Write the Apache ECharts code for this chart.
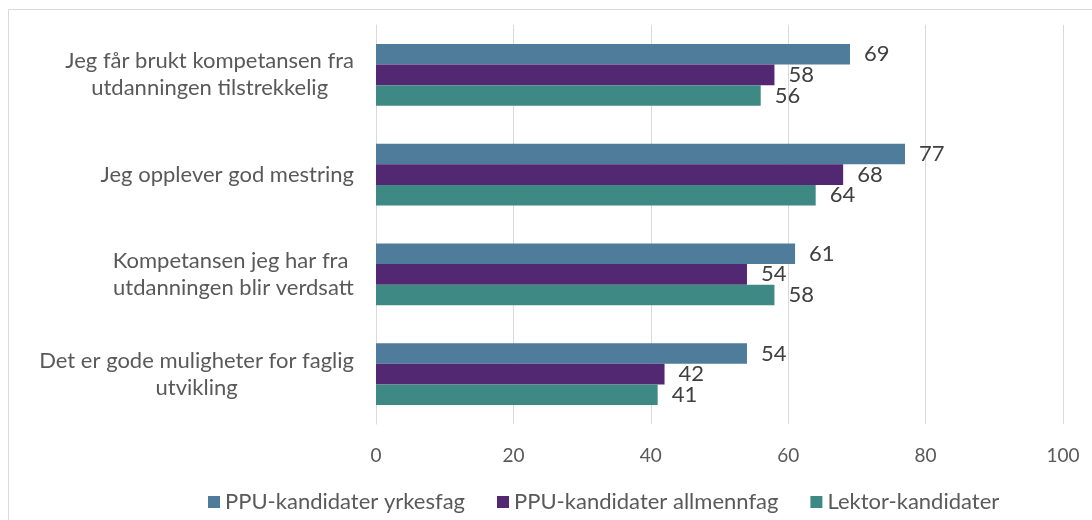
<!DOCTYPE html>
<html>
<head>
<meta charset="utf-8">
<script src="https://cdn.jsdelivr.net/npm/echarts@6/dist/echarts.min.js"></script>
<style>
   html, body { margin: 0; padding: 0; background: #ffffff; }
   #chart { width: 1092px; height: 520px; }
</style>
</head>
<body>
<div id="chart"></div>
<script>

// categories, top to bottom
const categories = [
   "Jeg får brukt kompetansen fra\nutdanningen tilstrekkelig",
   "Jeg opplever god mestring",
   "Kompetansen jeg har fra \nutdanningen blir verdsatt",
   "Det er gode muligheter for faglig\nutvikling",
];

const seriesNames = ["PPU-kandidater yrkesfag", "PPU-kandidater allmennfag", "Lektor-kandidater"];

const yrkesfag    = [69, 77, 61, 54];
const allmennfag  = [58, 68, 54, 42];
const lektor      = [56, 64, 58, 41];

const xTicks = [0, 20, 40, 60, 80, 100];

const colors = ["#4e7c9a", "#532873", "#3f8985"];

const fontFam = "Lato, 'Open Sans', sans-serif";

var chart = echarts.init(document.getElementById("chart"));

const seriesData = [yrkesfag, allmennfag, lektor];
const series = [];
for (var i=0; i<seriesData.length; i++)
{
   series.push({
      type: 'bar',
      name: seriesNames[i],
      data: seriesData[i],
      barGap: '0%',
      barCategoryGap: '38%',
      itemStyle: { color: colors[i] },
      label:
      {
         show: true,
         position: 'right',
         distance: 14,
         color: '#404040',
         fontSize: 22,
         fontFamily: fontFam,
      },
   });
}

var option =
{
   animation: false,
   textStyle: { fontFamily: fontFam },
   graphic: [
   {
      type: 'rect',
      shape: { x: 8.5, y: 9.5, width: 1200, height: 600 },
      style: { fill: 'none', stroke: '#d9d9d9', lineWidth: 1 },
      silent: true,
   }],
   grid: { left: 376, right: 29, top: 25, bottom: 96 },
   legend:
   {
      data: seriesNames,
      left: 203,
      top: 486,
      itemWidth: 12,
      itemHeight: 12,
      itemGap: 32,
      icon: 'rect',
      textStyle: { color: '#595959', fontSize: 22, fontFamily: fontFam },
   },
   xAxis:
   {
      type: 'value',
      min: xTicks[0],
      max: xTicks[xTicks.length - 1],
      interval: 20,
      axisLine: { show: false },
      axisTick: { show: false },
      axisLabel: { color: '#595959', fontSize: 19, margin: 22, fontFamily: fontFam },
      splitLine: { lineStyle: { color: '#d9d9d9', width: 1 } },
   },
   yAxis:
   {
      type: 'category',
      inverse: true,
      data: categories,
      axisLine: { show: true, lineStyle: { color: '#d9d9d9', width: 1 } },
      axisTick: { show: false },
      axisLabel:
      {
         margin: 22,
         color: '#595959',
         fontSize: 22,
         lineHeight: 27,
         fontFamily: fontFam,
         formatter: function (v)
         {
            return v.split("\n").map(function (l) { return "{c|" + l + "}"; }).join("\n");
         },
         rich: { c: { align: 'center', fontSize: 22, lineHeight: 27, color: '#595959', fontFamily: fontFam } },
      },
   },
   series: series,
};

chart.setOption(option);

</script>
</body>
</html>
